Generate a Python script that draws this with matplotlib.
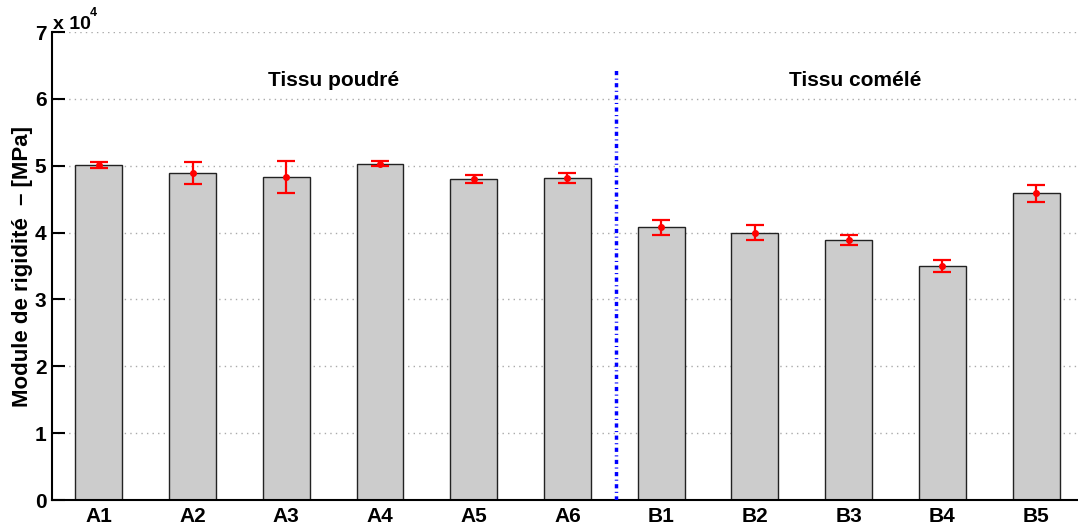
import numpy as np
import matplotlib
matplotlib.use("Agg")
import matplotlib.pyplot as plt
from matplotlib.ticker import FuncFormatter

plt.rcParams['font.family'] = ['Liberation Sans', 'DejaVu Sans']
plt.rcParams['font.weight'] = 'bold'

# Données (MPa)
echantillons = ['A1', 'A2', 'A3', 'A4', 'A5', 'A6', 'B1', 'B2', 'B3', 'B4', 'B5']
module = [50100, 48900, 48300, 50300, 48000, 48200, 40800, 40000, 38900, 35000, 45900]
ecart = [400, 1600, 2400, 400, 600, 750, 1100, 1100, 770, 870, 1270]
groupes = ['Tissu poudré', 'Tissu comélé']

fig = plt.figure(figsize=(10.78, 5.26), dpi=100)
ax = fig.add_axes([0.0482, 0.0494, 0.9564, 0.8897])

x = np.arange(1, len(echantillons) + 1)
ax.bar(x, module, width=0.5, color='#cccccc', edgecolor='#222222', linewidth=1.0, zorder=2)
ax.errorbar(x, module, yerr=ecart, fmt='o', color='red', ecolor='red',
            markersize=4, elinewidth=1.6, capsize=6.5, capthick=1.6, zorder=3)

# séparation des deux groupes
ax.plot([6.52, 6.52], [0, 64500], linestyle=(0, (1.2, 1.0, 0.3, 1.0)), color='blue',
        linewidth=2.5, zorder=4)
ax.text(3.5, 62800, groupes[0], ha='center', va='center', fontsize=15, fontweight='bold')
ax.text(9.07, 62800, groupes[1], ha='center', va='center', fontsize=15, fontweight='bold')

ax.set_xlim(0.5, 11.5)
ax.set_ylim(0, 70000)
ax.set_xticks(x)
ax.set_xticklabels(echantillons, fontsize=15, fontweight='bold')
ax.set_yticks(np.arange(0, 70001, 10000))
ax.yaxis.set_major_formatter(FuncFormatter(lambda v, p: f"{v / 1e4:g}"))
ax.tick_params(axis='y', direction='in', length=9, width=1.5, labelsize=15, pad=4)
ax.tick_params(axis='x', length=0, pad=5)
for lab in ax.get_yticklabels():
    lab.set_fontweight('bold')

ax.yaxis.grid(True, linestyle=(0, (1, 3)), color='#aaaaaa', linewidth=1.0)
ax.set_axisbelow(True)
for s in ['top', 'right']:
    ax.spines[s].set_visible(False)
ax.spines['left'].set_linewidth(1.5)
ax.spines['bottom'].set_linewidth(1.5)

ax.set_ylabel('Module de rigidité  – [MPa]', fontsize=16, fontweight='bold')
ax.yaxis.set_label_coords(-0.018, 0.5)

# facteur d'échelle
fig.text(53 / 1078, 1 - 29 / 526, 'x 10', fontsize=14, fontweight='bold', va='baseline')
fig.text(90 / 1078, 1 - 16 / 526, '4', fontsize=9, fontweight='bold', va='baseline')

fig.savefig('out.png', dpi=100)
